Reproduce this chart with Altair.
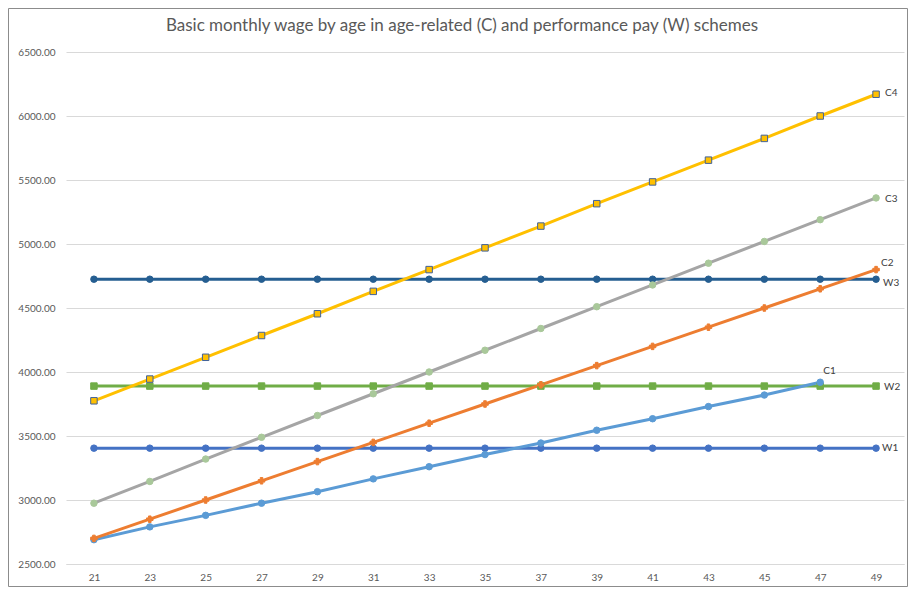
import altair as alt
import pandas as pd

ages = [21, 23, 25, 27, 29, 31, 33, 35, 37, 39, 41, 43, 45, 47, 49]
c1 = [2690, 2790, 2880, 2975, 3065, 3165, 3260, 3355, 3445, 3545, 3635, 3730, 3820, 3920]
c2 = [2700, 2850, 3000, 3150, 3300, 3450, 3600, 3750, 3900, 4050, 4200, 4350, 4500, 4650, 4800]
c3 = [2975, 3145, 3320, 3490, 3660, 3830, 4000, 4170, 4340, 4510, 4680, 4850, 5020, 5190, 5360]
c4 = [3775, 3945, 4115, 4285, 4455, 4630, 4800, 4970, 5140, 5315, 5485, 5655, 5825, 6000, 6170]
w1 = [3405] * 15
w2 = [3890] * 15
w3 = [4725] * 15
title_text = ["Basic monthly wage by age in age-related (C) and performance pay (W) schemes"]

series = {"W1": w1, "W2": w2, "W3": w3, "C1": c1, "C2": c2, "C3": c3, "C4": c4}
rows = []
for name, vals in series.items():
    for a, v in zip(ages, vals):
        rows.append({"series": name, "age": a, "wage": v})
df = pd.DataFrame(rows)

style = {
    "W1": dict(line="#4472C4", fill="#4472C4", stroke="#4472C4", shape="circle", dx=6, dy=0),
    "W2": dict(line="#70AD47", fill="#70AD47", stroke="#70AD47", shape="square", dx=8, dy=1),
    "W3": dict(line="#255E91", fill="#255E91", stroke="#255E91", shape="circle", dx=7, dy=4),
    "C1": dict(line="#5B9BD5", fill="#5B9BD5", stroke="#5B9BD5", shape="circle", dx=3, dy=-11),
    "C2": dict(line="#ED7D31", fill="#ED7D31", stroke="#ED7D31", shape="cross", dx=5, dy=-7),
    "C3": dict(line="#A5A5A5", fill="#A9C89A", stroke="#A9C89A", shape="circle", dx=9, dy=1),
    "C4": dict(line="#FFC000", fill="#FFC000", stroke="#41619A", shape="square", dx=9, dy=-1),
}

xs = alt.Scale(domain=[20, 50], nice=False, zero=False)
ys = alt.Scale(domain=[2500, 6500], nice=False, zero=False)

x_enc = alt.X("age:Q", scale=xs, axis=alt.Axis(values=ages, format="d", title=None, grid=False,
                                              ticks=False, domain=True, domainColor="#d9d9d9",
                                              labelPadding=8))
y_enc = alt.Y("wage:Q", scale=ys, axis=alt.Axis(values=list(range(2500, 7000, 500)), format=".2f",
                                               title=None, ticks=False, domain=False,
                                               gridColor="#d9d9d9", labelPadding=11))

border = alt.Chart(pd.DataFrame({"a": [0]})).mark_rect(
    fill="transparent", stroke="#8c8c8c", strokeWidth=1
).encode(x=alt.value(-57.5), x2=alt.value(841.5), y=alt.value(-43.5), y2=alt.value(534.5))

title = alt.Chart(pd.DataFrame({"t": title_text})).mark_text(
    align="center", baseline="middle", font="Lato", fontSize=17, color="#595959"
).encode(x=alt.value(396), y=alt.value(-26), text="t:N")

layers = [border, title]
for name in series:
    s = style[name]
    sub = alt.Chart(df).transform_filter(alt.datum.series == name)
    layers.append(sub.mark_line(color=s["line"], strokeWidth=3).encode(x=x_enc, y=y_enc))
for name in series:
    s = style[name]
    sub = alt.Chart(df).transform_filter(alt.datum.series == name)
    layers.append(sub.mark_point(filled=True, shape=s["shape"], size=42, fill=s["fill"],
                                 stroke=s["stroke"], strokeWidth=1, opacity=1).encode(x=x_enc, y=y_enc))
for name, vals in series.items():
    s = style[name]
    last_age = ages[len(vals) - 1]
    sub = alt.Chart(df).transform_filter(
        (alt.datum.series == name) & (alt.datum.age == last_age))
    layers.append(sub.mark_text(align="left", baseline="middle", dx=s["dx"], dy=s["dy"],
                                font="Lato", fontSize=10, color="#404040").encode(
        x=x_enc, y=y_enc, text="series:N"))

chart = alt.layer(*layers).properties(
    width=838, height=512,
    autosize=alt.AutoSizeParams(type="none"),
    padding={"left": 58, "top": 44, "right": 4, "bottom": 25},
).configure_view(stroke=None).configure_axis(
    labelFont="Lato", labelFontSize=10, labelColor="#595959"
)

chart.save("out.html", embed_options={"renderer": "svg", "actions": False})
